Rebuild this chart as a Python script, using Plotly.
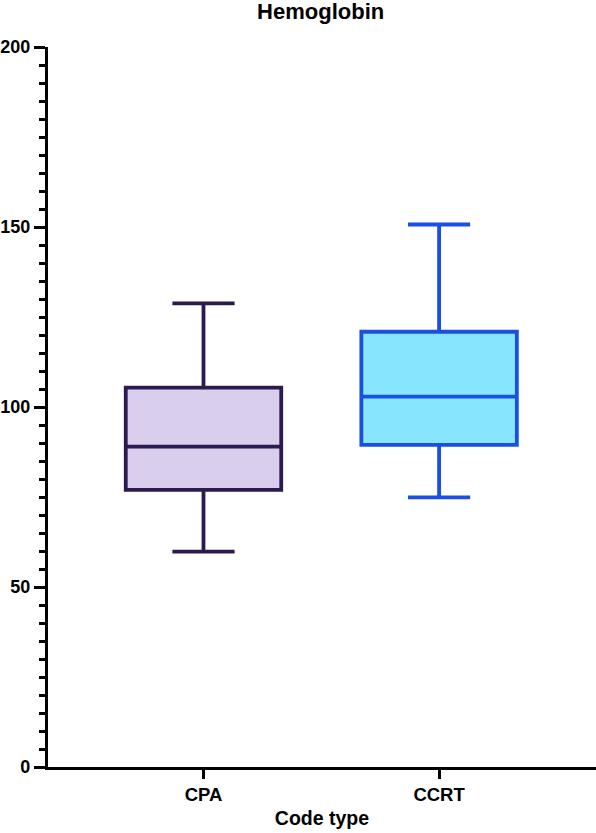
import plotly.graph_objects as go

categories = ["CPA", "CCRT"]
lower_whisker = [59.8, 74.9]
q1_vals = [77.0, 89.5]
medians = [89.0, 102.9]
q3_vals = [105.4, 120.9]
upper_whisker = [128.8, 150.7]
fill_colors = ["#D9CEEB", "#87E5FD"]
line_colors = ["#2A1A4F", "#1A4FE6"]

fig = go.Figure()
for i, cat in enumerate(categories):
    fig.add_trace(go.Box(
        x=[cat],
        q1=[q1_vals[i]], median=[medians[i]], q3=[q3_vals[i]],
        lowerfence=[lower_whisker[i]], upperfence=[upper_whisker[i]],
        fillcolor=fill_colors[i],
        line=dict(color=line_colors[i], width=3.8),
        width=0.66, whiskerwidth=0.4,
        boxpoints=False, showlegend=False, hoverinfo="skip",
    ))

font_family = "Liberation Sans, Arial, sans-serif"
fig.update_layout(
    width=596, height=833,
    margin=dict(l=46, r=0, t=47, b=66),
    paper_bgcolor="white", plot_bgcolor="white",
    title=dict(text="<b>Hemoglobin</b>", x=0.538, xanchor="center", y=0.9865, yanchor="middle",
               yref="container", font=dict(family=font_family, size=22, color="black")),
    font=dict(family=font_family, color="black"),
)
fig.update_yaxes(
    range=[0, 200], tickvals=[0, 50, 100, 150, 200], ticktext=["<b>0</b>", "<b>50</b>", "<b>100</b>", "<b>150</b>", "<b>200</b>"],
    showgrid=False, zeroline=False, showline=True, linecolor="black", linewidth=3.2,
    ticks="outside", ticklen=11, tickwidth=3, tickcolor="black",
    tickfont=dict(size=18, family=font_family),
    minor=dict(dtick=5, ticks="outside", ticklen=6, tickwidth=3, tickcolor="black", showgrid=False),
)
fig.update_xaxes(
    range=[-0.66, 1.666], tickvals=categories, ticktext=["<b>CPA</b>", "<b>CCRT</b>"],
    showgrid=False, zeroline=False, showline=True, linecolor="black", linewidth=3.2,
    ticks="outside", ticklen=9, tickwidth=3, tickcolor="black",
    tickfont=dict(size=18.5, family=font_family),
    title=dict(text="<b>Code type</b>", font=dict(size=19.5, family=font_family), standoff=8),
)
fig.write_html("out.html", config={"displayModeBar": False},
               post_script="document.body.style.margin='0';document.body.style.padding='0';")
